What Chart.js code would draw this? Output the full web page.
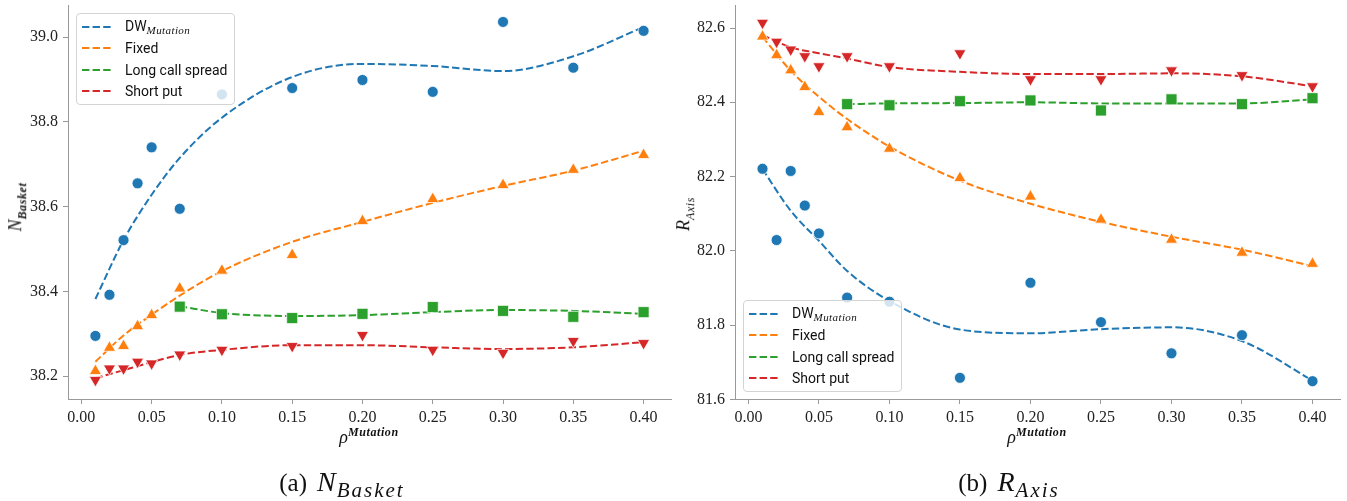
<!DOCTYPE html>
<html>
<head>
<meta charset="utf-8">
<script src="https://cdn.jsdelivr.net/npm/chart.js@4.4.1/dist/chart.umd.min.js"></script>
<style>
  body { margin: 0; width: 1347px; height: 501px; background: #fff; position: relative; overflow: hidden;
         font-family: 'Liberation Serif', serif; color: #111; }
  .panel { position: absolute; top: 0; height: 450px; }
  .panel canvas { position: absolute; left: 0; top: 0; }
  .legend { position: absolute; background: rgba(255, 255, 255, 0.8); border: 1px solid #d4d4d4; border-radius: 4px;
            padding: 2px 7px 2px 5px; font-family: Roboto, sans-serif; font-size: 14px; color: #111; }
  .legend .row { display: flex; align-items: center; height: 21.5px; white-space: nowrap; }
  .legend svg { margin-right: 12px; flex: none; }
  .legend sub { font-family: 'Liberation Serif', serif; font-style: italic; font-size: 11px; vertical-align: -3px; letter-spacing: 0.4px; }
  .title { position: absolute; white-space: nowrap; font-size: 18px; line-height: 1; }
  .title i { font-style: italic; }
  .title .b { font-weight: bold; font-style: italic; font-size: 12px; letter-spacing: 0.6px; }
  .ytitle { transform: translate(-50%, -50%) rotate(-90deg); }
  .xtitle { transform: translate(-50%, -50%); }
  .caption { position: absolute; top: 484px; transform: translate(-50%, -50%); font-size: 25px; white-space: nowrap; line-height: 1; }
  .caption i { font-size: 28px; margin-left: 10px; letter-spacing: 1px; }
  .caption sub { font-size: 21px; font-style: italic; vertical-align: -6px; letter-spacing: 2px; }
</style>
</head>
<body>

<div class="panel" id="panelA" style="left:0; width:690px;"><canvas id="basketChart" width="690" height="450"></canvas></div>
<div class="panel" id="panelB" style="left:673px; width:674px;"><canvas id="axisChart" width="674" height="450"></canvas></div>

<div class="title ytitle" style="left:17px; top:207px;"><i>N</i><sub class="b">Basket</sub></div>
<div class="title xtitle" style="left:369px; top:436px;"><i>ρ</i><sup class="b">Mutation</sup></div>
<div class="title ytitle" style="left:685px; top:214px;"><i>R</i><sub class="b" style="font-weight:normal">Axis</sub></div>
<div class="title xtitle" style="left:1037px; top:436px;"><i>ρ</i><sup class="b">Mutation</sup></div>

<div class="caption" style="left:342px;">(a)<i>N</i><sub>Basket</sub></div>
<div class="caption" style="left:1009px;">(b)<i>R</i><sub>Axis</sub></div>

<script>
// mutation rates
const rho = [0.01, 0.02, 0.03, 0.04, 0.05, 0.07, 0.10, 0.15, 0.20, 0.25, 0.30, 0.35, 0.40];
const rhoLong = [0.07, 0.10, 0.15, 0.20, 0.25, 0.30, 0.35, 0.40];
const rhoFit = [0.01, 0.03, 0.05, 0.07, 0.10, 0.15, 0.20, 0.25, 0.30, 0.35, 0.40];
const rhoFitLong = [0.07, 0.10, 0.15, 0.20, 0.25, 0.30, 0.35, 0.40];
const rhoTicks = [0.00, 0.05, 0.10, 0.15, 0.20, 0.25, 0.30, 0.35, 0.40];

// N_Basket measurements
const basketDW = [38.295, 38.392, 38.521, 38.655, 38.740, 38.595, 38.865, 38.880, 38.899, 38.871, 39.036, 38.928, 39.015];
const basketFixed = [38.212, 38.267, 38.271, 38.318, 38.344, 38.407, 38.449, 38.486, 38.566, 38.618, 38.651, 38.687, 38.722];
const basketLong = [38.364, 38.346, 38.337, 38.347, 38.363, 38.354, 38.340, 38.351];
const basketShort = [38.191, 38.218, 38.218, 38.234, 38.230, 38.251, 38.262, 38.271, 38.297, 38.262, 38.255, 38.283, 38.278];
// N_Basket trend lines
const basketFitDW = [38.382, 38.521, 38.628, 38.715, 38.810, 38.906, 38.937, 38.932, 38.920, 38.955, 39.024];
const basketFitFixed = [38.234, 38.296, 38.345, 38.390, 38.448, 38.517, 38.564, 38.609, 38.649, 38.685, 38.732];
const basketFitLong = [38.365, 38.349, 38.342, 38.344, 38.351, 38.356, 38.354, 38.347];
const basketFitShort = [38.195, 38.214, 38.233, 38.250, 38.262, 38.273, 38.273, 38.268, 38.264, 38.268, 38.280];
const basketTicks = [38.2, 38.4, 38.6, 38.8, 39.0];

// R_Axis measurements
const axisDW = [82.221, 82.029, 82.215, 82.122, 82.047, 81.874, 81.863, 81.658, 81.914, 81.808, 81.724, 81.773, 81.649];
const axisFixed = [82.577, 82.527, 82.486, 82.441, 82.374, 82.333, 82.275, 82.196, 82.146, 82.084, 82.030, 81.995, 81.965];
const axisLong = [82.395, 82.392, 82.403, 82.405, 82.378, 82.408, 82.395, 82.411];
const axisShort = [82.614, 82.563, 82.542, 82.524, 82.497, 82.524, 82.497, 82.532, 82.462, 82.462, 82.486, 82.473, 82.443];
// R_Axis trend lines
const axisFitDW = [82.220, 82.108, 82.027, 81.946, 81.865, 81.788, 81.778, 81.789, 81.794, 81.757, 81.651];
const axisFitFixed = [82.576, 82.485, 82.415, 82.355, 82.281, 82.189, 82.127, 82.078, 82.038, 82.003, 81.959];
const axisFitLong = [82.395, 82.397, 82.398, 82.400, 82.397, 82.397, 82.397, 82.408];
const axisFitShort = [82.581, 82.548, 82.532, 82.518, 82.495, 82.482, 82.476, 82.476, 82.478, 82.470, 82.443];
const axisTicks = [81.6, 81.8, 82.0, 82.2, 82.4, 82.6];

const legendNames = ['DW<sub>Mutation</sub>', 'Fixed', 'Long call spread', 'Short put'];
const colors = ['#1f77b4', '#ff7f0e', '#2ca02c', '#d62728'];

const pairs = (xs, ys) => xs.map((x, i) => ({ x, y: ys[i] }));

function markers(xs, ys, color, style, radius, rotation) {
  return {
    data: pairs(xs, ys), showLine: false,
    pointStyle: style, pointRadius: radius, pointRotation: rotation || 0,
    pointBackgroundColor: color, pointBorderColor: '#fff', pointBorderWidth: 0.75
  };
}

function trend(xs, ys, color) {
  return {
    data: pairs(xs, ys), showLine: true, pointRadius: 0,
    borderColor: color, borderWidth: 2, borderDash: [7.4, 3.2],
    cubicInterpolationMode: 'monotone', fill: false
  };
}

const tickFont = { family: "'Liberation Serif', serif", size: 16 };

function makeChart(id, cfg) {
  const datasets = [
    markers(rho, cfg.dw, colors[0], 'circle', 5.5),
    markers(rho, cfg.fixed, colors[1], 'triangle', 7),
    markers(rhoLong, cfg.long, colors[2], 'rect', 7.8),
    markers(rho, cfg.short, colors[3], 'triangle', 7, 180),
    trend(rhoFit, cfg.fitDW, colors[0]),
    trend(rhoFit, cfg.fitFixed, colors[1]),
    trend(rhoFitLong, cfg.fitLong, colors[2]),
    trend(rhoFit, cfg.fitShort, colors[3])
  ];
  return new Chart(document.getElementById(id), {
    type: 'scatter',
    data: { datasets },
    options: {
      responsive: false,
      animation: false,
      events: [],
      layout: { padding: cfg.padding, autoPadding: false },
      plugins: { legend: { display: false }, tooltip: { enabled: false } },
      scales: {
        x: {
          type: 'linear', min: -0.0095, max: 0.4195,
          afterBuildTicks: s => { s.ticks = rhoTicks.map(v => ({ value: v })); },
          afterFit: s => { s.height = 30; s.paddingLeft = 0; s.paddingRight = 0; },
          ticks: { callback: v => v.toFixed(2), font: tickFont, color: '#222', padding: 4, maxRotation: 0, autoSkip: false },
          grid: { display: true, drawOnChartArea: false, drawTicks: true, tickLength: 5, color: '#999' },
          border: { display: true, color: '#999', width: 1 }
        },
        y: {
          type: 'linear', min: cfg.yMin, max: cfg.yMax,
          afterBuildTicks: s => { s.ticks = cfg.ticks.map(v => ({ value: v })); },
          afterFit: s => { s.width = 60; s.paddingTop = 0; s.paddingBottom = 0; },
          ticks: { callback: v => v.toFixed(1), font: tickFont, color: '#222', padding: 5, autoSkip: false },
          grid: { display: true, drawOnChartArea: false, drawTicks: true, tickLength: 5, color: '#999' },
          border: { display: true, color: '#999', width: 1 }
        }
      }
    }
  });
}

function addLegend(chart, panelId, corner) {
  const box = document.createElement('div');
  box.className = 'legend';
  chart.data.datasets.filter(d => d.showLine).forEach((d, i) => {
    const row = document.createElement('div');
    row.className = 'row';
    row.innerHTML = '<svg width="31" height="4"><line x1="0" y1="2" x2="31" y2="2" stroke="' + d.borderColor +
      '" stroke-width="2" stroke-dasharray="7.4 3.2"/></svg><span>' + legendNames[i] + '</span>';
    box.appendChild(row);
  });
  document.getElementById(panelId).appendChild(box);
  const a = chart.chartArea;
  box.style.left = (a.left + 8) + 'px';
  box.style.top = corner === 'upper' ? (a.top + 8) + 'px' : (a.bottom - 7 - box.offsetHeight) + 'px';
}

const basketChart = makeChart('basketChart', {
  dw: basketDW, fixed: basketFixed, long: basketLong, short: basketShort,
  fitDW: basketFitDW, fitFixed: basketFitFixed, fitLong: basketFitLong, fitShort: basketFitShort,
  yMin: 38.146, yMax: 39.076, ticks: basketTicks,
  padding: { left: 8, right: 19, top: 5, bottom: 21 }
});
addLegend(basketChart, 'panelA', 'upper');

const axisChart = makeChart('axisChart', {
  dw: axisDW, fixed: axisFixed, long: axisLong, short: axisShort,
  fitDW: axisFitDW, fitFixed: axisFitFixed, fitLong: axisFitLong, fitShort: axisFitShort,
  yMin: 81.601, yMax: 82.662, ticks: axisTicks,
  padding: { left: 2, right: 7, top: 5, bottom: 21 }
});
addLegend(axisChart, 'panelB', 'lower');
</script>
</body>
</html>
